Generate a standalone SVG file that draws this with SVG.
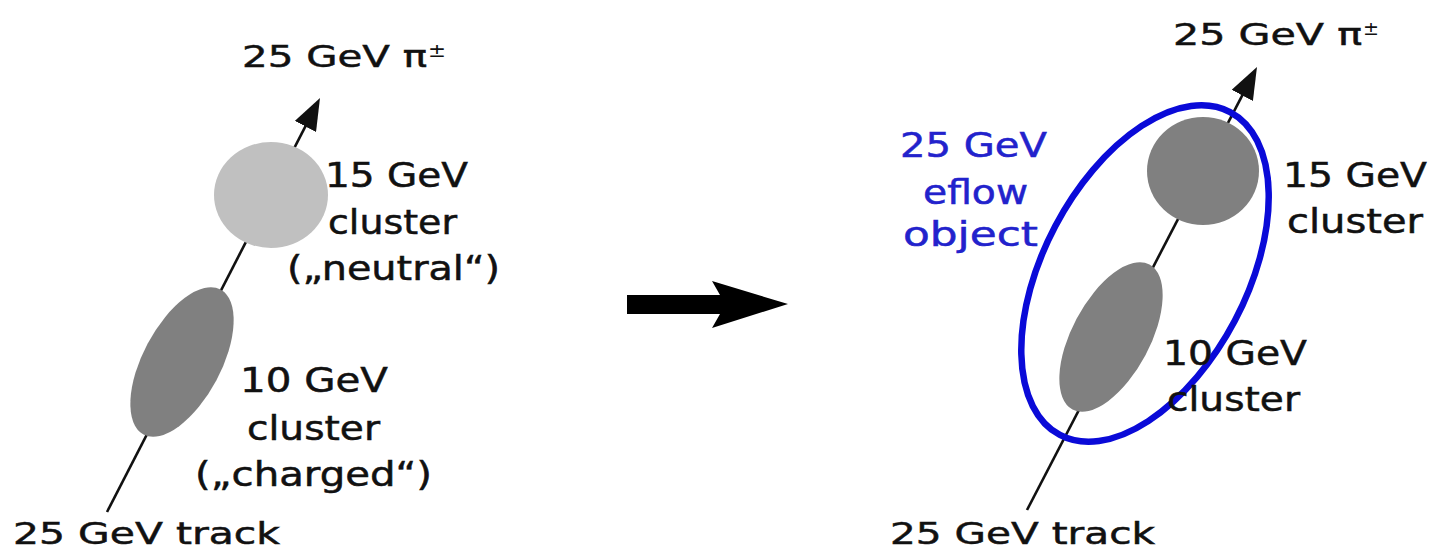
<svg xmlns="http://www.w3.org/2000/svg" width="1433" height="551" viewBox="0 0 1433 551">
  <style>
    .lbl { font-family: "DejaVu Sans", Verdana, sans-serif; font-size: 33px; fill: #111; stroke: #111; stroke-width: 0.5; }
    .ttl { font-size: 31px; }
    .sup { font-family: "DejaVu Sans", Verdana, sans-serif; font-size: 19px; fill: #111; }
    .blue { fill: #2222cc; stroke: #2222cc; }
    .track { stroke: #111; stroke-width: 2.6; fill: none; marker-end: url(#head); }
    .dark { fill: #808080; }
    .light { fill: #c0c0c0; }
    .eflow { fill: none; stroke: #0a0ad8; stroke-width: 6.5; }
  </style>
  <defs>
    <marker id="head" viewBox="0 0 32 24" refX="6" refY="12" markerWidth="32" markerHeight="24" markerUnits="userSpaceOnUse" orient="auto">
      <path d="M0,0 L32,12 L0,24 Z" fill="#111"/>
    </marker>
  </defs>
  <rect width="1433" height="551" fill="#fff"/>

  <!-- tracks and the transition arrow -->
  <g id="connectors">
    <line class="track" x1="107" y1="512" x2="308.1" y2="121.1"/>
    <line class="track" x1="1027" y1="510" x2="1245" y2="90.1"/>
    <path id="transition-arrow" d="M627,295 L720,295 L712,281 L788,304 L712,328 L720,314 L627,314 Z" fill="#000"/>
  </g>

  <!-- left: track with two separate clusters -->
  <g id="left-pion-label">
    <text class="lbl ttl" x="242" y="67" textLength="185" lengthAdjust="spacingAndGlyphs">25 GeV π</text>
    <text class="sup" x="428" y="57" textLength="18" lengthAdjust="spacingAndGlyphs">±</text>
  </g>
  <g id="left-neutral-cluster">
    <ellipse class="light" cx="271" cy="195" rx="57" ry="53"/>
    <text class="lbl" x="325" y="187" textLength="143" lengthAdjust="spacingAndGlyphs">15 GeV</text>
    <text class="lbl" x="328" y="234" textLength="129" lengthAdjust="spacingAndGlyphs">cluster</text>
    <text class="lbl" x="287" y="280" textLength="213" lengthAdjust="spacingAndGlyphs">(„neutral“)</text>
  </g>
  <g id="left-charged-cluster">
    <ellipse class="dark" cx="182" cy="362" rx="39" ry="82" transform="rotate(28 182 362)"/>
    <text class="lbl" x="240" y="392" textLength="148" lengthAdjust="spacingAndGlyphs">10 GeV</text>
    <text class="lbl" x="247" y="440" textLength="133" lengthAdjust="spacingAndGlyphs">cluster</text>
    <text class="lbl" x="195" y="486" textLength="237" lengthAdjust="spacingAndGlyphs">(„charged“)</text>
  </g>
  <g id="left-track-label">
    <text class="lbl ttl" x="13" y="544" textLength="267" lengthAdjust="spacingAndGlyphs">25 GeV track</text>
  </g>

  <!-- right: clusters merged into one eflow object -->
  <g id="right-pion-label">
    <text class="lbl ttl" x="1173" y="45" textLength="189" lengthAdjust="spacingAndGlyphs">25 GeV π</text>
    <text class="sup" x="1363" y="35" textLength="16" lengthAdjust="spacingAndGlyphs">±</text>
  </g>
  <g id="right-cluster-15">
    <ellipse class="dark" cx="1203" cy="171" rx="56" ry="54"/>
  </g>
  <g id="right-cluster-10">
    <ellipse class="dark" cx="1111" cy="337" rx="39" ry="82" transform="rotate(28 1111 337)"/>
  </g>
  <g id="eflow-object">
    <ellipse class="eflow" cx="1145" cy="273.5" rx="101.5" ry="182.5" transform="rotate(27.8 1145 273.5)"/>
    <text class="lbl blue" x="900" y="157" textLength="147" lengthAdjust="spacingAndGlyphs">25 GeV</text>
    <text class="lbl blue" x="923" y="204" textLength="105" lengthAdjust="spacingAndGlyphs">eflow</text>
    <text class="lbl blue" x="903" y="246" textLength="135" lengthAdjust="spacingAndGlyphs">object</text>
  </g>
  <g id="right-cluster-labels">
    <text class="lbl" x="1283" y="187" textLength="144" lengthAdjust="spacingAndGlyphs">15 GeV</text>
    <text class="lbl" x="1287" y="233" textLength="136" lengthAdjust="spacingAndGlyphs">cluster</text>
    <text class="lbl" x="1163" y="365" textLength="144" lengthAdjust="spacingAndGlyphs">10 GeV</text>
    <text class="lbl" x="1167" y="411" textLength="133" lengthAdjust="spacingAndGlyphs">cluster</text>
  </g>
  <g id="right-track-label">
    <text class="lbl ttl" x="890" y="544" textLength="265" lengthAdjust="spacingAndGlyphs">25 GeV track</text>
  </g>
</svg>
